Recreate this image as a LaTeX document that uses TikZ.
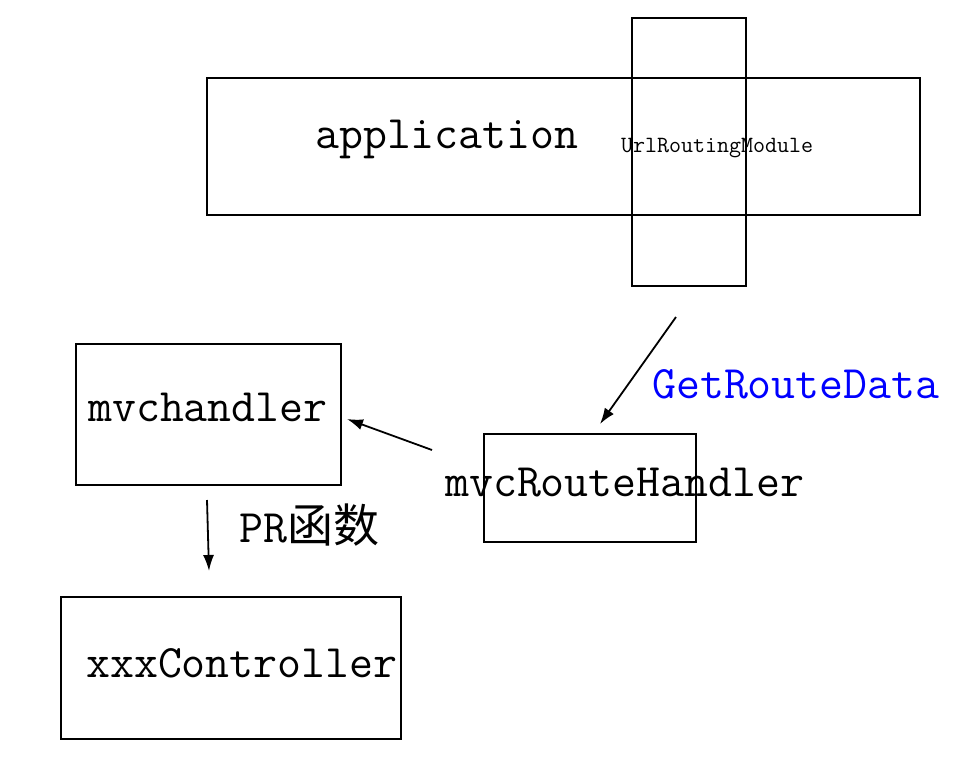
\documentclass[tikz,border=0pt]{standalone}
\usepackage{fontspec}
\newfontfamily\cjk{Noto Sans CJK SC}
\usetikzlibrary{arrows.meta}
\tikzset{
  box/.style={draw, line width=1.8pt, inner sep=0pt, anchor=north west},
  lbl/.style={inner sep=0pt, anchor=base west, font=\ttfamily\fontsize{46.5}{50}\selectfont},
  small/.style={inner sep=0pt, anchor=base west, font=\ttfamily\fontsize{23.3}{25}\selectfont},
  arr/.style={line width=1.8pt, -{Latex[length=16pt,width=11pt]}}
}
\begin{document}
\begin{tikzpicture}[x=1pt,y=-1pt]
\useasboundingbox (0,0) rectangle (962,761);
% boxes
\node[box, minimum width=713pt, minimum height=137pt] (app) at (206,77) {};
\node[box, minimum width=114pt, minimum height=268pt] (urm) at (631,17) {};
\node[box, minimum width=265pt, minimum height=141pt] (mvch) at (75,343) {};
\node[box, minimum width=212pt, minimum height=108pt] (mrh) at (483,433) {};
\node[box, minimum width=340pt, minimum height=142pt] (ctrl) at (60,596) {};
% texts
\node[lbl] (tapp) at (315,148) {application};
\node[small] (turm) at (621,152) {UrlRoutingModule};
\node[lbl] (tmvch) at (88,421) {mvchandler};
\node[lbl] (tmrh) at (445,496) {mvcRouteHandler};
\node[lbl] (tctrl) at (86,677) {xxxController};
\node[lbl, text={rgb,255:red,0;green,0;blue,255}] (tgrd) at (652,398) {GetRouteData};
\node[lbl] (tpr) at (239,542) {PR{\cjk\fontsize{46}{50}\selectfont 函数}};
% arrows
\coordinate (a1s) at (676,317);
\coordinate (a1e) at (600,424);
\coordinate (a2s) at (432,450);
\coordinate (a2e) at (347,419);
\coordinate (a3s) at (207,500);
\coordinate (a3e) at (209,571);
\draw[arr] (a1s) -- (a1e);
\draw[arr] (a2s) -- (a2e);
\draw[arr] (a3s) -- (a3e);
\end{tikzpicture}
\end{document}
